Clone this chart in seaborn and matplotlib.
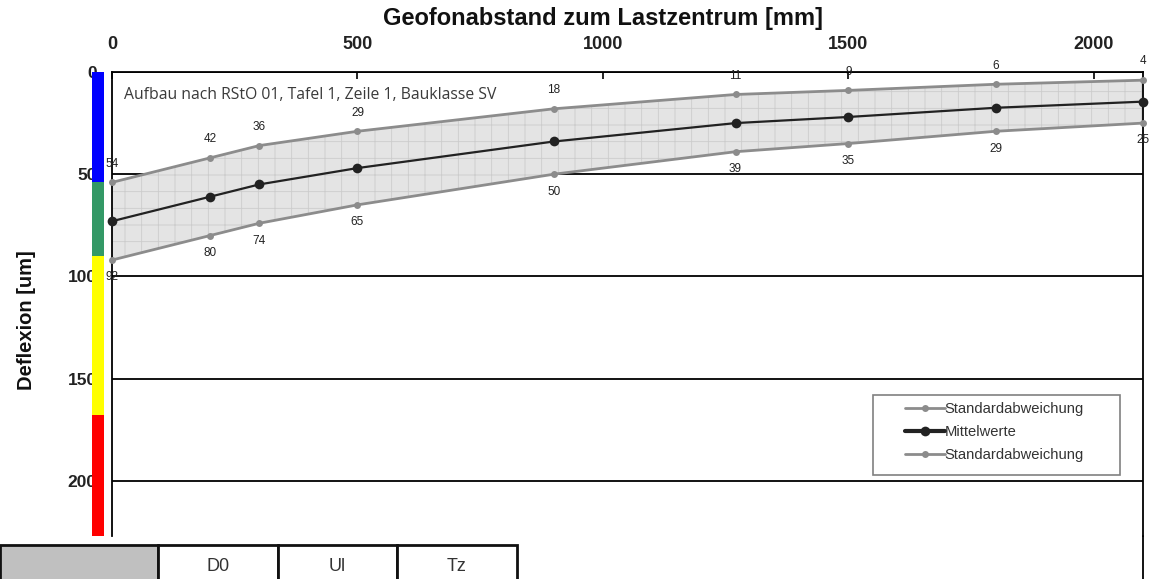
import matplotlib
matplotlib.use("Agg")
import matplotlib.pyplot as plt
import seaborn as sns
import numpy as np
from matplotlib.lines import Line2D
from matplotlib.patches import Rectangle

# ---- data ----
distance_mm = [0, 200, 300, 500, 900, 1270, 1500, 1800, 2100]
upper_std = [54, 42, 36, 29, 18, 11, 9, 6, 4]
mean_vals = [73, 61, 55, 47, 34, 25, 22, 17.5, 14.5]
lower_std = [92, 80, 74, 65, 50, 39, 35, 29, 25]
x_ticks = [0, 500, 1000, 1500, 2000]
y_ticks = [0, 50, 100, 150, 200]
zone_start = [0, 54, 90, 168]
zone_end = [54, 90, 168, 227]
zone_colors = ["#0000ff", "#339966", "#ffff00", "#ff0000"]
table_labels = ["", "D0", "Ul", "Tz"]

sns.set_theme(style="white")
plt.rcParams["font.family"] = ["Liberation Sans", "DejaVu Sans"]
plt.rcParams["hatch.linewidth"] = 0.6

W, H = 1157, 579
fig = plt.figure(figsize=(W / 100, H / 100), dpi=100)
fig.patch.set_facecolor("white")

ax_l, ax_r, ax_t, ax_b = 112, 1143, 72, 536
ax = fig.add_axes([ax_l / W, 1 - ax_b / H, (ax_r - ax_l) / W, (ax_b - ax_t) / H])

# shaded band with grid hatch
ax.fill_between(distance_mm, upper_std, lower_std, facecolor="#e4e4e4",
                edgecolor="#cccccc", hatch="+", linewidth=0, zorder=1)

sns.lineplot(x=distance_mm, y=upper_std, ax=ax, color="#8c8c8c", lw=2,
             marker="o", markersize=5, markeredgewidth=0, clip_on=False,
             label="Standardabweichung", zorder=4)
sns.lineplot(x=distance_mm, y=mean_vals, ax=ax, color="#222222", lw=1.6,
             marker="o", markersize=7, markeredgewidth=0, clip_on=False,
             label="Mittelwerte", zorder=5)
sns.lineplot(x=distance_mm, y=lower_std, ax=ax, color="#8c8c8c", lw=2,
             marker="o", markersize=5, markeredgewidth=0, clip_on=False,
             label="Standardabweichung", zorder=4)

for xv, uv, lv in zip(distance_mm, upper_std, lower_std):
    ax.annotate(f"{uv:g}", (xv, uv), xytext=(0, 13.5), textcoords="offset points",
                ha="center", va="center", fontsize=8.5, color="#222222",
                annotation_clip=False, zorder=6)
    ax.annotate(f"{lv:g}", (xv, lv), xytext=(0, -12.5), textcoords="offset points",
                ha="center", va="center", fontsize=8.5, color="#222222",
                annotation_clip=False, zorder=6)

ax.set_xlim(0, 2100)
ax.set_ylim(227, 0)
ax.set_xticks(x_ticks)
ax.set_yticks(y_ticks)
ax.xaxis.tick_top()
ax.xaxis.set_label_position("top")
ax.set_xlabel("Geofonabstand zum Lastzentrum [mm]", fontsize=17,
              fontweight="bold", color="#111111")
ax.xaxis.label.set_va("center")
ax.xaxis.set_label_coords(0.476, 1 + (ax_t - 18) / (ax_b - ax_t))
ax.set_ylabel("Deflexion [um]", fontsize=14.5, fontweight="bold", color="#111111")
ax.yaxis.set_label_coords(-0.0737, 0.465)
ax.tick_params(axis="x", direction="in", length=5, width=1.2, color="black",
               pad=14, labelsize=13, top=True, bottom=False)
ax.tick_params(axis="y", length=0, pad=11, labelsize=12.5, left=True)
for lab in ax.get_xticklabels() + ax.get_yticklabels():
    lab.set_fontweight("bold")
    lab.set_color("#222222")

ax.yaxis.grid(True, color="black", lw=1.3)
ax.xaxis.grid(False)
for side in ["top", "left", "right"]:
    ax.spines[side].set_visible(True)
    ax.spines[side].set_color("black")
    ax.spines[side].set_linewidth(1.3)
ax.spines["bottom"].set_visible(False)

ax.text(0.012, 0.968, "Aufbau nach RStO 01, Tafel 1, Zeile 1, Bauklasse SV",
        transform=ax.transAxes, fontsize=11.3, family=["Open Sans", "DejaVu Sans"],
        color="#3a3a3a", va="top", ha="left")

# legend frame + legend
ax.add_patch(Rectangle((0.738, 0.1315), 0.2396, 0.1724, transform=ax.transAxes,
                       facecolor="white", edgecolor="#808080", lw=1.2, zorder=6))
handles, labels = ax.get_legend_handles_labels()
leg = ax.legend(handles, labels, loc="upper left", bbox_to_anchor=(0.769, 0.289),
                fontsize=10.6, frameon=False, handlelength=2.7,
                handletextpad=0.0, borderpad=0, labelspacing=0.62,
                borderaxespad=0)
leg.set_zorder(7)
for t in leg.get_texts():
    t.set_color("#333333")
for h in leg.get_lines():
    if h.get_label() == "Mittelwerte":
        h.set_linewidth(3)

# right spine continues to the bottom of the image
fig.add_artist(Line2D([ax_r / W, ax_r / W], [0, 1 - ax_b / H], color="black",
                      lw=1.3, transform=fig.transFigure))

# coloured zone bar
bax = fig.add_axes([92 / W, 1 - ax_b / H, 12.5 / W, (ax_b - ax_t) / H])
bax.bar([0] * len(zone_start), np.subtract(zone_end, zone_start), bottom=zone_start,
        width=1, color=zone_colors, linewidth=0)
bax.set_xlim(-0.5, 0.5)
bax.set_ylim(227, 0)
bax.axis("off")

# table at bottom
tax = fig.add_axes([0, -0.015, 517 / W, (579 - 545) / H + 0.015])
tax.axis("off")
widths = np.array([158, 120, 119, 120], dtype=float)
tbl = tax.table(cellText=[table_labels], colWidths=list(widths / widths.sum()),
                cellColours=[["#c0c0c0", "white", "white", "white"]],
                cellLoc="center", bbox=[0, 0, 1, 1])
tbl.auto_set_font_size(False)
for (r, c), cell in tbl.get_celld().items():
    cell.set_linewidth(2)
    cell.set_edgecolor("#111111")
    cell.get_text().set_fontsize(13)
    cell.get_text().set_color("#333333")

fig.savefig("out.png", dpi=100)
